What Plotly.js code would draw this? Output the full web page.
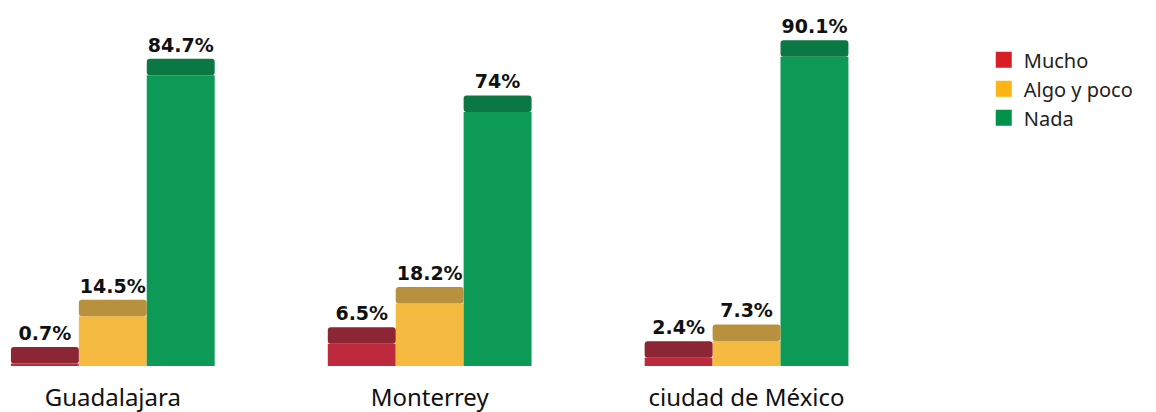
<!DOCTYPE html>
<html><head><meta charset="utf-8">
<script src="https://cdn.plot.ly/plotly-3.0.1.min.js"></script>
<style>html,body{margin:0;padding:0;background:#fff}#chart{width:1156px;height:412px}</style>
</head><body><div id="chart"></div>
<script>
const categories = ["Guadalajara", "Monterrey", "ciudad de México"];
const seriesNames = ["Mucho", "Algo y poco", "Nada"];
const mucho = [0.7, 6.5, 2.4];
const algoYPoco = [14.5, 18.2, 7.3];
const nada = [84.7, 74, 90.1];
const seriesValues = [mucho, algoYPoco, nada];

const frontColors = ["#bd2a3d", "#f5bb40", "#0d9a56"];
const topColors = ["#8c2634", "#b8913f", "#0b7843"];
const legendColors = ["#d71f26", "#fdb515", "#00924a"];
const CAP = 4.8; // visual thickness of the 3D top face, in axis units

const traces = [];
seriesValues.forEach((vals, i) => {
  traces.push({
    type: "bar", x: categories, y: vals, offsetgroup: String(i),
    marker: {color: frontColors[i]}, showlegend: false, hoverinfo: "skip"
  });
});
seriesValues.forEach((vals, i) => {
  traces.push({
    type: "bar", x: categories, base: vals, y: vals.map(() => CAP), offsetgroup: String(i),
    customdata: vals, texttemplate: "%{customdata}%", textposition: "outside",
    constraintext: "none", cliponaxis: false,
    textfont: {family: "DejaVu Sans", size: 19, color: "#111", weight: "bold"},
    marker: {color: topColors[i]}, showlegend: false, name: seriesNames[i]
  });
});
seriesNames.forEach((n, i) => {
  traces.push({
    type: "scatter", mode: "markers", x: [null], y: [null], name: n,
    marker: {symbol: "square", size: 16, color: legendColors[i]}
  });
});

const layout = {
  width: 1156, height: 412,
  margin: {l: 0, r: 0, t: 0, b: 46},
  paper_bgcolor: "#fff", plot_bgcolor: "#fff",
  barmode: "group", bargap: 0.357, bargroupgap: 0, barcornerradius: 3,
  xaxis: {
    type: "category", range: [-0.356, 2.672], domain: [0, 0.83],
    showgrid: false, zeroline: false, showline: false,
    ticks: "outside", ticklen: 10, tickcolor: "rgba(0,0,0,0)",
    tickfont: {family: "Noto Sans", size: 24, color: "#111"}
  },
  yaxis: {range: [0, 106.6], visible: false, fixedrange: true},
  showlegend: true,
  legend: {
    x: 0.851, y: 0.89, xanchor: "left", yanchor: "top",
    font: {family: "Noto Sans", size: 20, color: "#222"},
    itemsizing: "trace", tracegroupgap: 0, bgcolor: "rgba(0,0,0,0)"
  },
  font: {family: "Noto Sans"}
};
Plotly.newPlot("chart", traces, layout, {displayModeBar: false, staticPlot: true});
</script></body></html>
